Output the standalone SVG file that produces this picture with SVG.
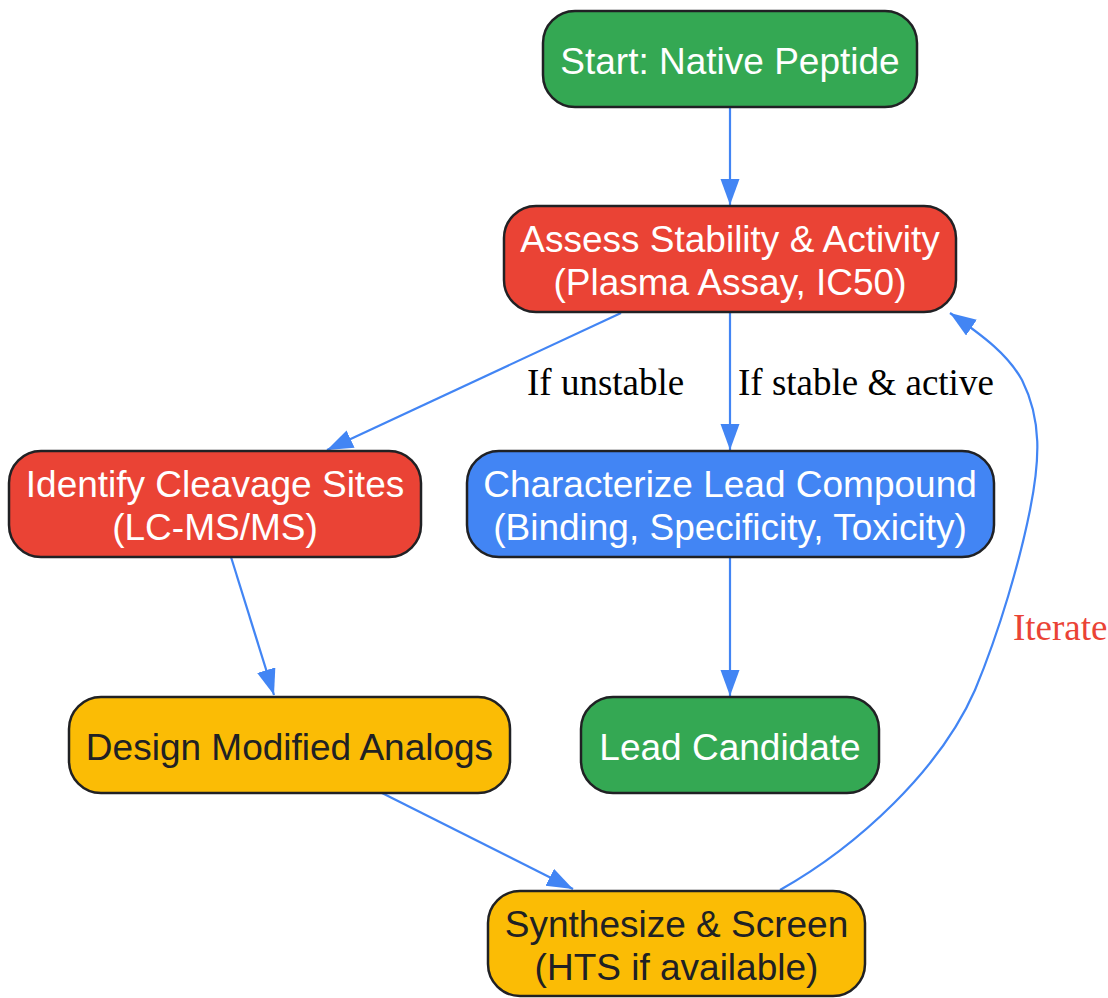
<svg xmlns="http://www.w3.org/2000/svg" width="1108" height="998" viewBox="0 0 1108 998">
<defs>
<style>
.node rect{stroke:#202124;stroke-width:2.5}
.green rect{fill:#34A853}
.red rect{fill:#EA4335}
.blue rect{fill:#4285F4}
.yellow rect{fill:#FBBC05}
.node text{font-family:"Liberation Sans",Arial,sans-serif;font-size:37px;text-anchor:middle;fill:#FFFFFF}
.yellow text{fill:#202124}
.edge{fill:none;stroke:#4285F4;stroke-width:2.2;marker-end:url(#arr)}
.lbl{font-family:"Liberation Serif","Times New Roman",serif;font-size:37px;fill:#000000}
</style>
<marker id="arr" markerUnits="userSpaceOnUse" markerWidth="28" markerHeight="20" refX="26" refY="9.5" orient="auto">
<path d="M0,0 L26,9.5 L0,19 z" fill="#4285F4"/>
</marker>
</defs>
<rect width="1108" height="998" fill="#FFFFFF"/>
<g id="connectors">
<path class="edge" d="M730,108 L730,205"/>
<path class="edge" d="M621,313 L327,450"/>
<path class="edge" d="M730,312 L730,450"/>
<path class="edge" d="M231,557 L274,695"/>
<path class="edge" d="M730,557 L730,696"/>
<path class="edge" d="M382,793 L573,889"/>
<path class="edge" d="M780,890 C858,846 940,770 975,690 C1000,630 1020,560 1030,510 C1040,460 1042,420 1022,380 C1008,355 985,337 950,313"/>
<text class="lbl" x="527" y="395">If unstable</text>
<text class="lbl" x="738" y="395">If stable &amp; active</text>
<text class="lbl" x="1013" y="640" fill="#EA4335" style="fill:#EA4335">Iterate</text>
</g>
<g id="start" class="node green">
<rect x="543" y="11" width="374" height="96" rx="32"/>
<text x="730" y="74">Start: Native Peptide</text>
</g>
<g id="assess" class="node red">
<rect x="504" y="206" width="452" height="106" rx="32"/>
<text x="730" y="252">Assess Stability &amp; Activity</text>
<text x="730" y="295">(Plasma Assay, IC50)</text>
</g>
<g id="identify" class="node red">
<rect x="9" y="451" width="412" height="106" rx="32"/>
<text x="215" y="497">Identify Cleavage Sites</text>
<text x="215" y="540">(LC-MS/MS)</text>
</g>
<g id="characterize" class="node blue">
<rect x="467" y="451" width="527" height="106" rx="32"/>
<text x="730" y="497">Characterize Lead Compound</text>
<text x="730" y="540">(Binding, Specificity, Toxicity)</text>
</g>
<g id="design" class="node yellow">
<rect x="69" y="697" width="441" height="96" rx="32"/>
<text x="289.5" y="760">Design Modified Analogs</text>
</g>
<g id="lead" class="node green">
<rect x="581" y="697" width="298" height="96" rx="32"/>
<text x="730" y="760">Lead Candidate</text>
</g>
<g id="synthesize" class="node yellow">
<rect x="488" y="891" width="377" height="105" rx="32"/>
<text x="676.5" y="937">Synthesize &amp; Screen</text>
<text x="676.5" y="980">(HTS if available)</text>
</g>
</svg>
